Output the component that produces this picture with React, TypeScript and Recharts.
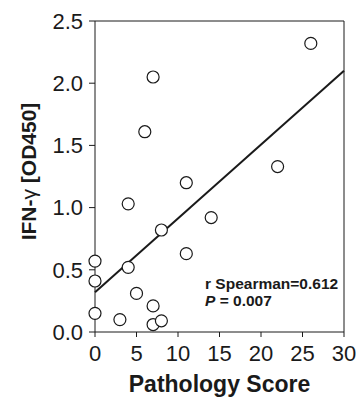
import React from 'react';
import {
  ScatterChart,
  Scatter,
  XAxis,
  YAxis,
  ReferenceLine,
  Customized,
  Label
} from 'recharts';

// pathology score (x) vs IFN-gamma OD450 (y)
const scores = [26, 7, 6, 11, 22, 4, 14, 8, 11, 0, 4, 0, 5, 7, 0, 3, 7, 8];
const ifnValues = [2.32, 2.05, 1.61, 1.2, 1.33, 1.03, 0.92, 0.82, 0.63, 0.57, 0.52, 0.41, 0.31, 0.21, 0.15, 0.1, 0.06, 0.09];

// regression line end points
const fitX = [0, 30];
const fitY = [0.32, 2.1];

const xTicks = [0, 5, 10, 15, 20, 25, 30];
const yTicks = [0, 0.5, 1.0, 1.5, 2.0, 2.5];

const statsLines = ['r Spearman=0.612', '= 0.007'];

const points = scores.map((s, i) => ({ score: s, ifn: ifnValues[i] }));

const FONT = '"Liberation Sans", Arial, Helvetica, sans-serif';
const INK = '#1a1a1a';

const OpenCircle = (props: any) => {
  const { cx, cy } = props;
  if (cx == null || cy == null) return null;
  return <circle cx={cx} cy={cy} r={6} fill="#fff" stroke={INK} strokeWidth={1.2} />;
};

const YLabel = (props: any) => {
  const vb = props.viewBox || { x: 0, y: 0, width: 95, height: 311 };
  const x = vb.x + 28;
  const y = vb.y + vb.height / 2 - 5;
  return (
    <text
      x={x}
      y={y}
      transform={`rotate(-90, ${x}, ${y})`}
      textAnchor="middle"
      dominantBaseline="central"
      fontFamily={FONT}
      fontSize={21}
      fontWeight="bold"
      fill={INK}
    >
      IFN-<tspan fontWeight="normal">γ</tspan> [OD450]
    </text>
  );
};

// stats annotation, placed with the chart's own scales
const StatsText = (props: any) => {
  const xScale = props.xAxisMap ? (Object.values(props.xAxisMap)[0] as any)?.scale : null;
  const yScale = props.yAxisMap ? (Object.values(props.yAxisMap)[0] as any)?.scale : null;
  const x = xScale ? xScale(13.3) : 205;
  const y1 = yScale ? yScale(0.34) : 289;
  const y2 = yScale ? yScale(0.2) : 306;
  return (
    <g fontFamily={FONT} fontSize={15.5} fontWeight="bold" fill={INK}>
      <text x={x} y={y1}>{statsLines[0]}</text>
      <text x={x} y={y2}>
        <tspan fontStyle="italic">P</tspan> {statsLines[1]}
      </text>
    </g>
  );
};

export default function App() {
  return (
    <div style={{ position: 'absolute', left: 0, top: 0, width: 358, height: 397, background: '#fff' }}>
      <ScatterChart width={358} height={397} margin={{ top: 21, right: 14, left: 0, bottom: 0 }}>
        <XAxis
          type="number"
          dataKey="score"
          domain={[0, 30]}
          ticks={xTicks}
          interval={0}
          height={65}
          stroke={INK}
          tickSize={5}
          tickMargin={8}
          tick={{ fill: INK, fontSize: 22, fontFamily: FONT }}
        >
          <Label
            value="Pathology Score"
            position="insideBottom"
            offset={5}
            style={{ fontFamily: FONT, fontSize: 23, fontWeight: 'bold', fill: INK }}
          />
        </XAxis>
        <YAxis
          type="number"
          dataKey="ifn"
          domain={[0, 2.5]}
          ticks={yTicks}
          interval={0}
          width={95}
          stroke={INK}
          tickSize={6}
          tickMargin={6}
          tickFormatter={(v: number) => v.toFixed(1)}
          tick={{ fill: INK, fontSize: 22, fontFamily: FONT }}
        >
          <Label content={YLabel} />
        </YAxis>
        <ReferenceLine y={2.5} stroke={INK} strokeWidth={1} />
        <ReferenceLine x={30} stroke={INK} strokeWidth={1} />
        <ReferenceLine
          segment={[{ x: fitX[0], y: fitY[0] }, { x: fitX[1], y: fitY[1] }]}
          stroke={INK}
          strokeWidth={2}
        />
        <Scatter data={points} shape={OpenCircle} isAnimationActive={false} />
        <Customized component={StatsText} />
      </ScatterChart>
    </div>
  );
}
